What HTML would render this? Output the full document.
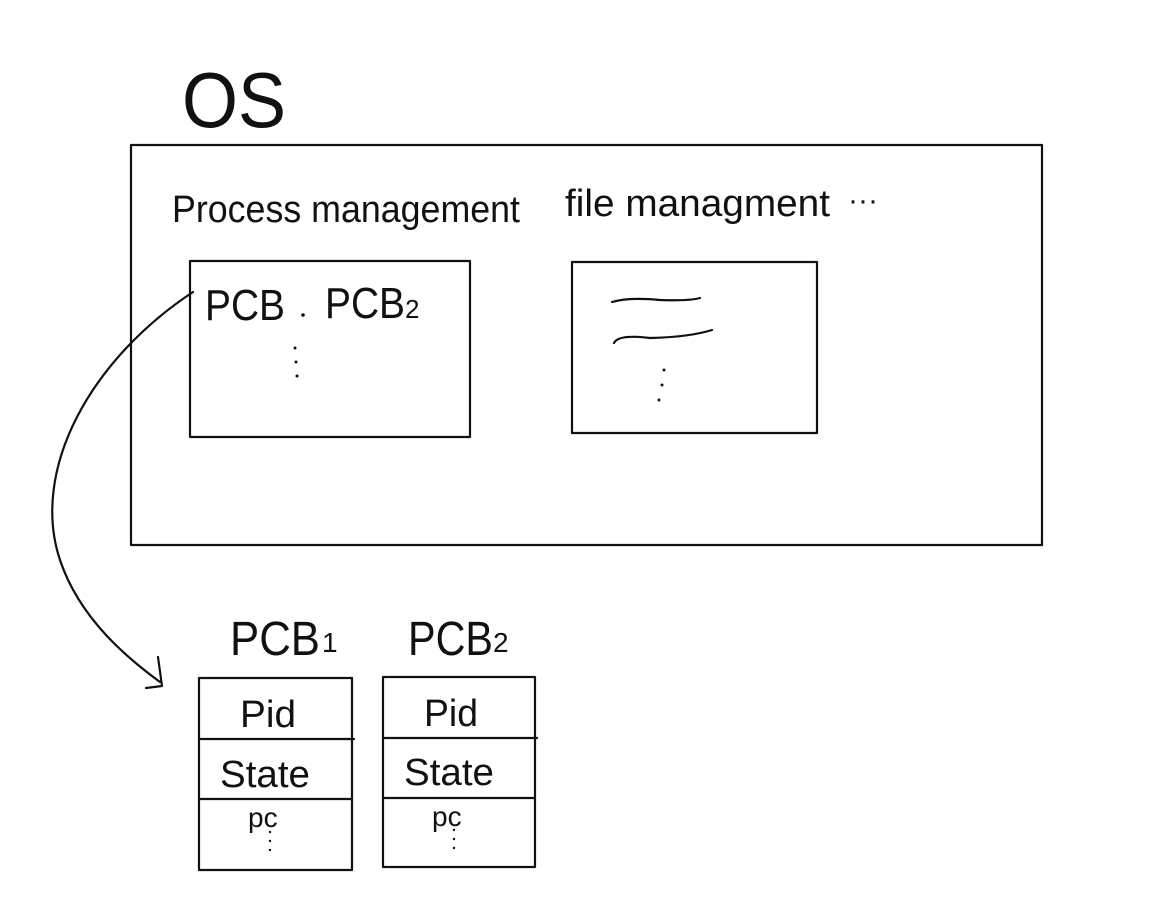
<!DOCTYPE html>
<html><head><meta charset="utf-8"><style>
html,body{margin:0;padding:0;background:#fff;}
svg{display:block}
text{font-family:"Liberation Sans",sans-serif;fill:#111;}
</style></head><body>
<svg width="1155" height="915" viewBox="0 0 1155 915" xmlns="http://www.w3.org/2000/svg">
<g fill="none" stroke="#111" stroke-width="2.2" stroke-linecap="round" stroke-linejoin="round">
<rect x="131" y="145" width="911" height="400"/>
<rect x="190" y="261" width="280" height="176"/>
<rect x="572" y="262" width="245" height="171"/>
<path d="M612 302 Q630 297 660 300 Q690 301 700 298"/>
<path d="M614 343 Q618 334 650 338 Q690 337 712 330"/>
<path d="M193 292 C90 360 30 470 60 560 C80 620 130 660 160 682"/>
<path d="M158 657 L162 686 L146 688"/>
<rect x="199" y="678" width="153" height="192"/>
<line x1="199" y1="739" x2="354" y2="739"/>
<line x1="199" y1="799" x2="352" y2="799"/>
<rect x="383" y="677" width="152" height="190"/>
<line x1="383" y1="738" x2="537" y2="738"/>
<line x1="383" y1="798" x2="535" y2="798"/>
</g>
<g fill="#111">
<circle cx="295" cy="348" r="1.5"/><circle cx="296" cy="362" r="1.5"/><circle cx="297" cy="376" r="1.5"/>
<circle cx="664" cy="370" r="1.5"/><circle cx="662" cy="385" r="1.5"/><circle cx="659" cy="400" r="1.5"/>
<circle cx="303" cy="315" r="1.8"/>
<circle cx="270" cy="832" r="1.2"/><circle cx="270" cy="841" r="1.2"/><circle cx="270" cy="850" r="1.2"/>
<circle cx="454" cy="830" r="1.2"/><circle cx="454" cy="839" r="1.2"/><circle cx="454" cy="848" r="1.2"/>
</g>
<text x="182" y="127" font-size="78" font-weight="300" textLength="104" lengthAdjust="spacingAndGlyphs">OS</text>
<text x="172" y="222" font-size="38" textLength="348" lengthAdjust="spacingAndGlyphs">Process management</text>
<text x="565" y="216" font-size="38" textLength="265" lengthAdjust="spacingAndGlyphs">file managment</text>
<text x="848" y="210" font-size="30">···</text>
<text x="205" y="320" font-size="44" textLength="80" lengthAdjust="spacingAndGlyphs">PCB</text>
<text x="325" y="318" font-size="44" textLength="80" lengthAdjust="spacingAndGlyphs">PCB</text>
<text x="405" y="318" font-size="26">2</text>
<text x="230" y="655" font-size="48" textLength="90" lengthAdjust="spacingAndGlyphs">PCB</text>
<text x="322" y="652" font-size="28">1</text>
<text x="408" y="655" font-size="48" textLength="85" lengthAdjust="spacingAndGlyphs">PCB</text>
<text x="493" y="652" font-size="28">2</text>
<text x="240" y="727" font-size="38" textLength="56" lengthAdjust="spacingAndGlyphs">Pid</text>
<text x="424" y="726" font-size="38" textLength="54" lengthAdjust="spacingAndGlyphs">Pid</text>
<text x="220" y="787" font-size="38" textLength="90" lengthAdjust="spacingAndGlyphs">State</text>
<text x="404" y="785" font-size="38" textLength="90" lengthAdjust="spacingAndGlyphs">State</text>
<text x="248" y="827" font-size="28">pc</text>
<text x="432" y="826" font-size="28">pc</text>
</svg>
</body></html>
